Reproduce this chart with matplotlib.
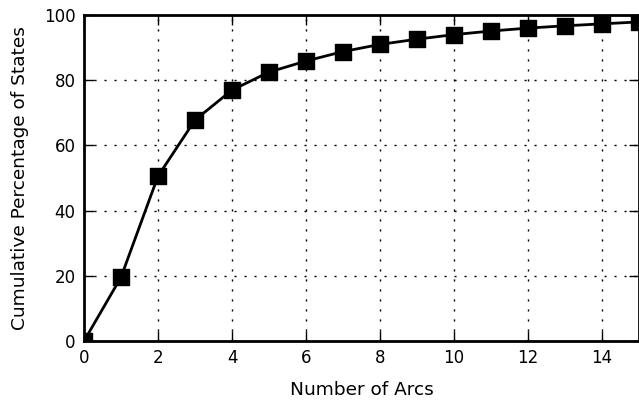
import numpy as np
import matplotlib
matplotlib.use('Agg')
import matplotlib.pyplot as plt

# number of arcs vs cumulative percentage of states
arcs = [0, 1, 2, 3, 4, 5, 6, 7, 8, 9, 10, 11, 12, 13, 14, 15]
cum_pct = [0.0, 19.6, 50.6, 67.8, 77.0, 82.5, 85.9, 88.8, 91.0, 92.6,
           94.0, 95.1, 96.0, 96.7, 97.3, 97.9]

plt.rcParams['font.family'] = 'DejaVu Sans'
plt.rcParams['font.size'] = 12

fig = plt.figure(figsize=(6.39, 4.07), dpi=100)
ax = fig.add_axes([0.1315, 0.162, 0.8685, 0.801])

ax.plot(arcs, cum_pct, color='k', lw=2, zorder=3)
# squares as a scatter so they get cut at the frame
ax.scatter(arcs, cum_pct, marker='s', s=11.5**2, c='k', edgecolors='k',
           linewidths=1, zorder=4)

ax.set_xlim(0, 15)
ax.set_ylim(0, 100)
ax.set_xticks([0, 2, 4, 6, 8, 10, 12, 14])
ax.set_yticks([0, 20, 40, 60, 80, 100])
ax.set_xlabel('Number of Arcs', fontsize=13.3, labelpad=10)
ax.set_ylabel('Cumulative Percentage of States', fontsize=13.3, labelpad=11)

ax.grid(True, color='k', linestyle=(0, (1.5, 5.7)), lw=1)
ax.tick_params(direction='in', top=True, right=True, length=7, width=1, pad=6)
for s in ax.spines.values():
    s.set_linewidth(2)
    s.set_zorder(5)

fig.savefig('out.png', dpi=100)
